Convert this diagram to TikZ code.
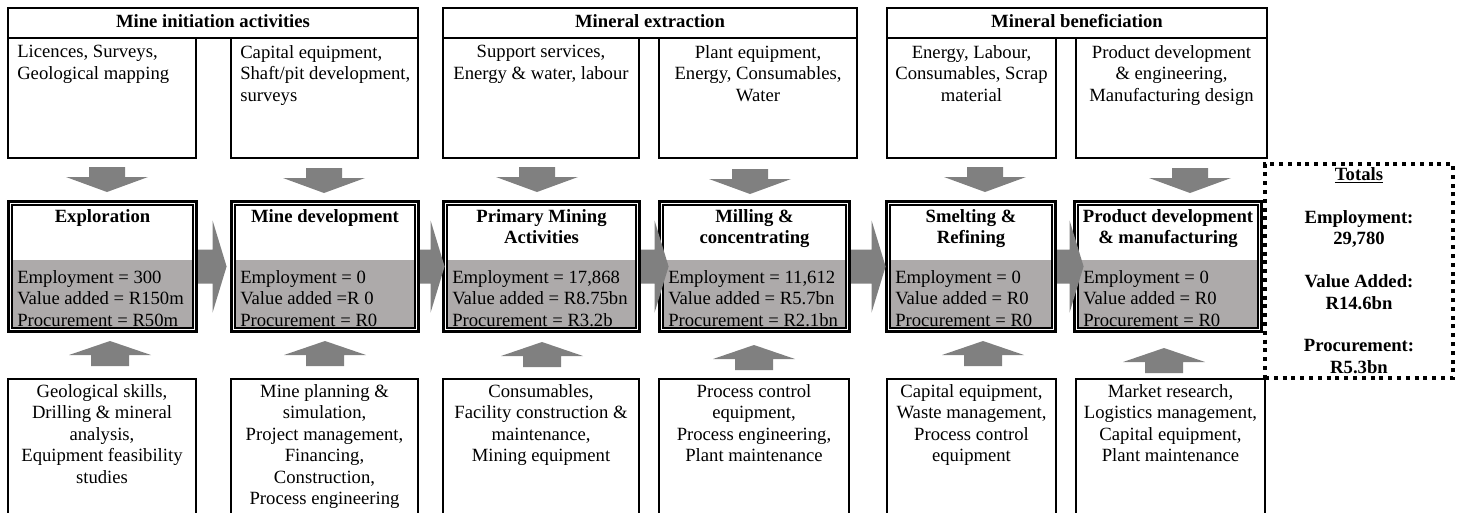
\documentclass[tikz,border=0pt]{standalone}
\usepackage{fontspec}
\setmainfont{Liberation Serif}
\usetikzlibrary{fit,positioning}

\definecolor{panelgray}{RGB}{173,170,170}
\definecolor{arrowgray}{RGB}{128,128,128}
\newcommand\diagfont{\fontsize{14}{16.1}\selectfont}

\tikzset{
  box/.style={draw, line width=1.5pt, inner sep=0pt},
  stagebox/.style={draw, line width=2.4pt, inner sep=0pt},
  dotbox/.style={draw, line width=3pt, dash pattern=on 3pt off 3.6pt, inner sep=0pt},
  ctxt/.style={anchor=north, inner sep=0pt, align=center, font=\diagfont},
  ltxt/.style={anchor=north west, inner sep=0pt, align=left, font=\diagfont},
  btxt/.style={anchor=north, inner sep=0pt, align=center, font=\diagfont\bfseries},
  pics/downarrow/.style={code={
    \fill[arrowgray] (-18,0) -- (18,0) -- (18,10) -- (41,10) -- (0,25) -- (-41,10) -- (-18,10) -- cycle;}},
  pics/uparrow/.style={code={
    \fill[arrowgray] (-19,25) -- (19,25) -- (19,14) -- (41,14) -- (0,0) -- (-41,14) -- (-19,14) -- cycle;}},
  pics/rightarrow/.style={code={
    \fill[arrowgray] (0,-17) -- (#1-14,-17) -- (#1-14,-46) -- (#1,0) -- (#1-14,46) -- (#1-14,17) -- (0,17) -- cycle;}}
}

\begin{document}
\begin{tikzpicture}[x=0.75pt, y=-0.75pt]
\useasboundingbox (0,0) rectangle (1463,512);

% phase headers
\node[box, fit={(8,8) (418,38)}] (hd1) {};
\node[box, fit={(443,8) (857,38)}] (hd2) {};
\node[box, fit={(887,8) (1267,38)}] (hd3) {};
\node[btxt] (hd1t) at (213,14) {Mine initiation activities};
\node[btxt] (hd2t) at (650,14) {Mineral extraction};
\node[btxt] (hd3t) at (1077,14) {Mineral beneficiation};

% inputs
\node[box, fit={(8,38) (196,158)}] (in1) {};
\node[box, fit={(231,38) (418,158)}] (in2) {};
\node[box, fit={(443,38) (639,158)}] (in3) {};
\node[box, fit={(659,38) (857,158)}] (in4) {};
\node[box, fit={(887,38) (1056,158)}] (in5) {};
\node[box, fit={(1076,38) (1267,158)}] (in6) {};
\node[ltxt] (in1t) at (17,45) {Licences, Surveys,\\Geological mapping};
\node[ltxt] (in2t) at (240,45) {Capital equipment,\\Shaft/pit development,\\surveys};
\node[ctxt] (in3t) at (541,45) {Support services,\\Energy \& water, labour};
\node[ctxt] (in4t) at (758,45) {Plant equipment,\\Energy, Consumables,\\Water};
\node[ctxt] (in5t) at (971.5,45) {Energy, Labour,\\Consumables, Scrap\\material};
\node[ctxt] (in6t) at (1171.5,45) {Product development\\\& engineering,\\Manufacturing design};

% value chain stages
\foreach \n/\xa/\xb in {1/7/198, 2/230/420, 3/442/641, 4/658/851, 5/885/1057, 6/1073/1263}{
  \fill[panelgray] (\xa+5,260) rectangle (\xb-5,328);
  \draw[line width=0.8pt] (\xa+5,205) rectangle (\xb-5,328);
  \node[stagebox, fit={(\xa+1.5,201.5) (\xb-1.5,331.5)}] (s\n) {};
}
\node[btxt] (s1t) at (102.5,209) {Exploration};
\node[btxt] (s2t) at (325,209) {Mine development};
\node[btxt] (s3t) at (541.5,209) {Primary Mining\\Activities};
\node[btxt] (s4t) at (754.5,209) {Milling \&\\concentrating};
\node[btxt] (s5t) at (971,209) {Smelting \&\\Refining};
\node[btxt] (s6t) at (1168,209) {Product development\\\& manufacturing};
\node[ltxt] (s1d) at (17,270) {Employment = 300\\Value added = R150m\\Procurement = R50m};
\node[ltxt] (s2d) at (240,270) {Employment = 0\\Value added =R 0\\Procurement = R0};
\node[ltxt] (s3d) at (452,270) {Employment = 17,868\\Value added = R8.75bn\\Procurement = R3.2b};
\node[ltxt] (s4d) at (668,270) {Employment = 11,612\\Value added = R5.7bn\\Procurement = R2.1bn};
\node[ltxt] (s5d) at (895,270) {Employment = 0\\Value added = R0\\Procurement = R0};
\node[ltxt] (s6d) at (1083,270) {Employment = 0\\Value added = R0\\Procurement = R0};

% supporting services
\node[box, fit={(8,379) (196,516)}] (sup1) {};
\node[box, fit={(231,379) (418,516)}] (sup2) {};
\node[box, fit={(443,379) (639,516)}] (sup3) {};
\node[box, fit={(659,379) (849,516)}] (sup4) {};
\node[box, fit={(887,379) (1056,516)}] (sup5) {};
\node[box, fit={(1076,379) (1265,516)}] (sup6) {};
\node[ctxt] (sup1t) at (102,384) {Geological skills,\\Drilling \& mineral\\analysis,\\Equipment feasibility\\studies};
\node[ctxt] (sup2t) at (324.5,384) {Mine planning \&\\simulation,\\Project management,\\Financing,\\Construction,\\Process engineering};
\node[ctxt] (sup3t) at (541,384) {Consumables,\\Facility construction \&\\maintenance,\\Mining equipment};
\node[ctxt] (sup4t) at (754,384) {Process control\\equipment,\\Process engineering,\\Plant maintenance};
\node[ctxt] (sup5t) at (971.5,384) {Capital equipment,\\Waste management,\\Process control\\equipment};
\node[ctxt] (sup6t) at (1170.5,384) {Market research,\\Logistics management,\\Capital equipment,\\Plant maintenance};

% block arrows
\foreach \x/\y in {107/167, 324/168, 537/167, 750/169, 985/167, 1190/168}
  \pic at (\x,\y) {downarrow};
\foreach \x/\y in {110/341, 325/341, 542/342, 754/345, 983/341, 1164/348}
  \pic at (\x,\y) {uparrow};
\pic at (s1.east) {rightarrow=28.5};
\pic at (s2.east) {rightarrow=24.5};
\pic at (s3.east) {rightarrow=27.5};
\pic at (s4.east) {rightarrow=34.5};
\pic at (s5.east) {rightarrow=26.5};

% totals
\node[dotbox, fit={(1265,164) (1453,378)}] (tot) {};
\node[btxt] (tott) at (1359,167) {\underline{Totals}\\[16.1pt]Employment:\\29,780\\[16.1pt]Value Added:\\R14.6bn\\[16.1pt]Procurement:\\R5.3bn};
\end{tikzpicture}
\end{document}
